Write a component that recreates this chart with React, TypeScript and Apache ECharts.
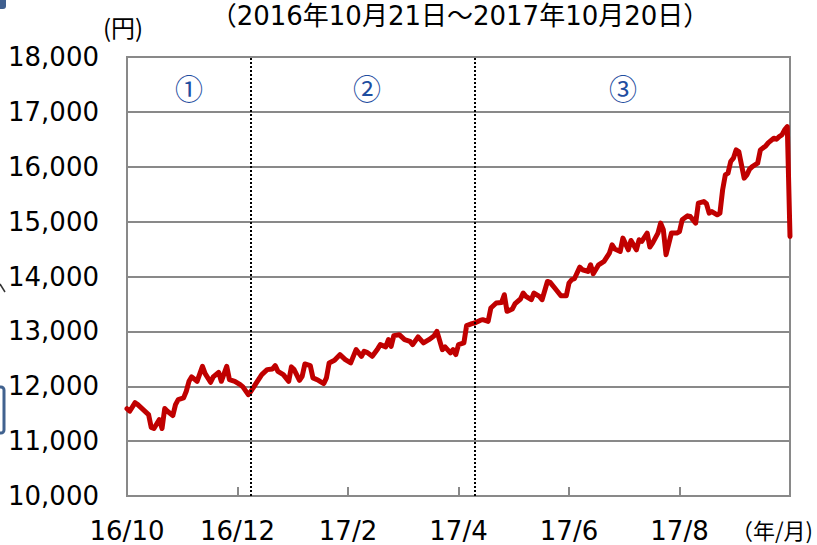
import React, { useEffect, useRef } from "react";
import * as echarts from "echarts";

// Trading-day index (0 = 2016/10/21, 246 = 2017/10/20) and price (円)
const tradingDay = [
  0, 1, 3, 4, 6, 8, 9, 10, 12, 13, 14, 15, 17, 18, 19, 21, 22, 23, 24, 26,
  28, 29, 31, 32, 34, 35, 37, 38, 40, 42, 43, 45, 46, 48, 50, 52, 54, 55, 56, 58,
  60, 61, 62, 64, 65, 66, 68, 69, 71, 73, 74, 75, 77, 79, 81, 83, 85, 87, 88, 89,
  91, 93, 94, 96, 97, 98, 99, 101, 103, 105, 106, 108, 110, 112, 114, 115, 117, 118, 120, 121,
  122, 123, 125, 126, 128, 129, 131, 132, 134, 135, 137, 139, 140, 141, 143, 144, 146, 147, 148, 150,
  151, 153, 154, 156, 157, 159, 161, 163, 164, 165, 166, 168, 169, 171, 172, 173, 175, 177, 179, 180,
  181, 183, 184, 186, 187, 189, 190, 191, 193, 194, 195, 197, 198, 199, 200, 202, 204, 205, 206, 208,
  209, 210, 211, 212, 214, 215, 216, 217, 219, 220, 221, 222, 223, 224, 225, 226, 227, 229, 230, 231,
  232, 234, 235, 237, 238, 240, 241, 242, 243, 244, 245, 246,
];
const price = [
  11590, 11545, 11700, 11665, 11575, 11484, 11250, 11230, 11393, 11230, 11594, 11545, 11466, 11666, 11757, 11788, 11909, 12090, 12170, 12090,
  12363, 12231, 12072, 12170, 12254, 12090, 12363, 12121, 12090, 12030, 11989, 11848, 11909, 12061, 12212, 12303, 12316, 12376, 12272, 12212,
  12090, 12353, 12303, 12109, 12181, 12407, 12376, 12152, 12109, 12049, 12152, 12425, 12473, 12576, 12485, 12425, 12667, 12545, 12637, 12618,
  12545, 12680, 12758, 12717, 12849, 12727, 12922, 12940, 12849, 12818, 12758, 12899, 12789, 12849, 12922, 13000, 12667, 12717, 12607, 12667,
  12576, 12758, 12789, 13104, 13140, 13153, 13200, 13213, 13183, 13426, 13517, 13528, 13668, 13365, 13408, 13505, 13590, 13699, 13637, 13577,
  13699, 13637, 13577, 13910, 13892, 13772, 13650, 13650, 13881, 13941, 13960, 14170, 14123, 14092, 14214, 14051, 14214, 14275, 14427, 14578,
  14500, 14456, 14700, 14487, 14657, 14487, 14669, 14639, 14791, 14537, 14609, 14791, 14973, 14851, 14396, 14791, 14791, 14820, 15033, 15106,
  15094, 15033, 14973, 15337, 15366, 15325, 15155, 15184, 15124, 15155, 15579, 15852, 15883, 16095, 16156, 16307, 16277, 15792, 15852, 15956,
  16003, 16065, 16307, 16380, 16440, 16520, 16502, 16549, 16580, 16671, 16731, 14730,
];

const tickLabels = ["16/10", "16/12", "17/2", "17/4", "17/6", "17/8", ""];
const periodBoundaryDays = [46, 129];
const periodLabels = ["①", "②", "③"];
const titleText = "（2016年10月21日～2017年10月20日）";
const yUnitText = "(円)";
const xUnitText = "（年/月)";

export default function App() {
  const ref = useRef<HTMLDivElement>(null);

  useEffect(() => {
    const chart = echarts.init(ref.current!, null, { renderer: "svg" });
    const FONT = "'DejaVu Sans', 'Noto Sans CJK JP', sans-serif";
    const CJK = "'Noto Sans CJK JP', 'DejaVu Sans', sans-serif";
    const gridColor = "#898989";

    chart.setOption({
      animation: false,
      backgroundColor: "#ffffff",
      grid: {
        left: 127,
        right: 27,
        top: 57,
        bottom: 49,
        show: true,
        borderColor: gridColor,
        borderWidth: 2,
      },
      xAxis: {
        type: "value",
        min: 0,
        max: 246,
        interval: 41,
        axisLine: { show: true, lineStyle: { color: gridColor, width: 2 } },
        axisTick: { show: true, inside: true, length: 9, lineStyle: { color: gridColor, width: 2 } },
        splitLine: { show: false },
        axisLabel: {
          formatter: (v: number) => tickLabels[Math.round(v / 41)] ?? "",
          fontSize: 26,
          color: "#000",
          margin: 22,
          fontFamily: FONT,
          showMaxLabel: true,
          showMinLabel: true,
        },
      },
      yAxis: {
        type: "value",
        min: 10000,
        max: 18000,
        interval: 1000,
        axisLine: { show: false },
        axisTick: { show: false },
        splitLine: { show: true, lineStyle: { color: gridColor, width: 2 } },
        axisLabel: {
          formatter: (v: number) => v.toLocaleString("en-US"),
          fontSize: 26,
          color: "#000",
          margin: 28,
          fontFamily: FONT,
        },
      },
      series: [
        {
          type: "line",
          data: tradingDay.map((d, i) => [d, price[i]]),
          showSymbol: false,
          symbol: "none",
          lineStyle: { color: "#C00000", width: 5, join: "round", cap: "round" },
          markLine: {
            silent: true,
            symbol: "none",
            label: { show: false },
            lineStyle: { type: [2, 2], color: "#000", width: 2 },
            data: periodBoundaryDays.map((d) => ({ xAxis: d })),
          },
        },
      ],
      graphic: [
        {
          type: "text",
          x: 460,
          y: 16,
          style: {
            text: titleText,
            fontSize: 26,
            fontFamily: FONT,
            fill: "#000",
            align: "center",
            verticalAlign: "middle",
          },
        },
        {
          type: "text",
          x: 123,
          y: 26,
          style: {
            text: yUnitText,
            fontSize: 24,
            fontFamily: CJK,
            fill: "#000",
            align: "center",
            verticalAlign: "middle",
          },
        },
        {
          type: "text",
          x: 813,
          y: 529,
          style: {
            text: xUnitText,
            fontSize: 22,
            fontFamily: CJK,
            fill: "#000",
            align: "right",
            verticalAlign: "middle",
          },
        },
        ...periodLabels.map((t, i) => ({
          type: "text",
          x: [189, 367, 623][i],
          y: 88,
          style: {
            text: t,
            fontSize: 28,
            fontFamily: CJK,
            fill: "#1F4EA0",
            align: "center",
            verticalAlign: "middle",
          },
        })),
        {
          type: "rect",
          shape: { x: -20, y: 387, width: 24, height: 46, r: 3 },
          style: { fill: "none", stroke: "#41628F", lineWidth: 3 },
        },
        {
          type: "rect",
          shape: { x: -6, y: -6, width: 12, height: 15, r: 3 },
          style: { fill: "#3F5F8F" },
        },
        {
          type: "line",
          shape: { x1: 0, y1: 284, x2: 5, y2: 292 },
          style: { stroke: "#333", lineWidth: 1.5 },
        },
      ],
    });

    return () => chart.dispose();
  }, []);

  return (
    <div
      ref={ref}
      style={{ position: "absolute", left: 0, top: 0, width: 817, height: 545 }}
    />
  );
}
